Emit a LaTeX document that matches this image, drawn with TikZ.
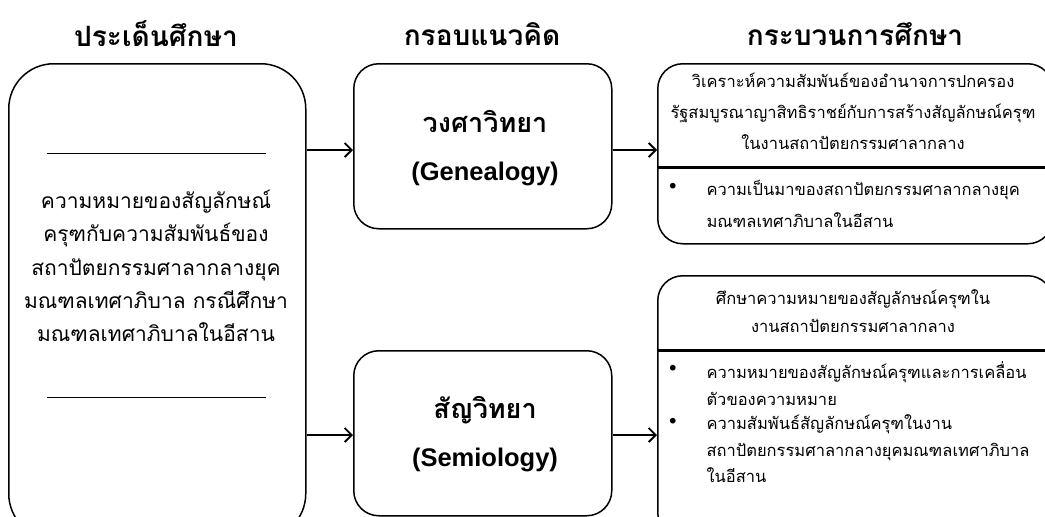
\documentclass[tikz,border=0pt]{standalone}
\usepackage{fontspec}
\usetikzlibrary{arrows.meta}
\setmainfont{Liberation Sans}
\newfontfamily\thai[Script=Thai]{Loma}
\tikzset{
  box/.style={draw, line width=1.5pt, rounded corners=#1, inner sep=0pt},
  title/.style={font=\thai\bfseries\fontsize{28}{30}\selectfont},
  big/.style={font=\thai\fontsize{21}{33.2}\selectfont, align=center},
  mid/.style={font=\thai\bfseries\fontsize{27}{48}\selectfont, align=center},
  small/.style={font=\thai\fontsize{16.5}{#1}\selectfont},
  small/.default=30,
  arr/.style={line width=1.6pt, -{Straight Barb[length=7pt,width=14pt,line width=1.8pt]}},
  sep/.style={line width=3pt},
  thin/.style={line width=0.8pt}
}
\newcommand{\latinmid}{\normalfont\bfseries\fontsize{25.5}{48}\selectfont}
\begin{document}
\begin{tikzpicture}[x=1pt,y=-1pt]
\useasboundingbox (0,0) rectangle (1045,517);
\begin{scope}
\clip (0,0) rectangle (1045,517);
% titles
\node[title] (t1) at (156,34) {ประเด็นศึกษา};
\node[title] (t2) at (482,34) {กรอบแนวคิด};
\node[title] (t3) at (855,34) {กระบวนการศึกษา};
% left box
\node[box=45pt, minimum width=297pt, minimum height=475pt, anchor=north west] (issue) at (8,63) {};
\draw[thin] (47,153) -- (266,153);
\draw[thin] (47,397) -- (266,397);
\node[big] (issuetext) at (156,266) {ความหมายของสัญลักษณ์\\ครุฑกับความสัมพันธ์ของ\\สถาปัตยกรรมศาลากลางยุค\\มณฑลเทศาภิบาล กรณีศึกษา\\มณฑลเทศาภิบาลในอีสาน};
% middle boxes
\node[box=25pt, minimum width=258pt, minimum height=165pt, anchor=north west] (gen) at (353,63) {};
\node[mid] (gentext) at (485,148) {วงศาวิทยา\\{\latinmid (Genealogy)}};
\node[box=25pt, minimum width=258pt, minimum height=165pt, anchor=north west] (sem) at (353,350) {};
\node[mid] (semtext) at (485,434) {สัญวิทยา\\{\latinmid (Semiology)}};
% right boxes
\node[box=25pt, minimum width=395pt, minimum height=180pt, anchor=north west] (r1) at (657,63) {};
\draw[sep] (657,167) -- (1052,167);
\node[small=31, align=center] (r1h) at (853,111) {วิเคราะห์ความสัมพันธ์ของอำนาจการปกครอง\\รัฐสมบูรณาญาสิทธิราชย์กับการสร้างสัญลักษณ์ครุฑ\\ในงานสถาปัตยกรรมศาลากลาง};
\node[small] (r1b) at (673,187) {•};
\node[small=32, align=left, anchor=west] (r1t) at (703,204) {ความเป็นมาของสถาปัตยกรรมศาลากลางยุค\\มณฑลเทศาภิบาลในอีสาน};
\node[box=25pt, minimum width=395pt, minimum height=262pt, anchor=north west] (r2) at (657,275) {};
\draw[sep] (657,350) -- (1052,350);
\node[small=28, align=center] (r2h) at (853,311) {ศึกษาความหมายของสัญลักษณ์ครุฑใน\\งานสถาปัตยกรรมศาลากลาง};
\node[small] (r2b1) at (673,369) {•};
\node[small] (r2b2) at (673,422) {•};
\node[small=26.8, align=left, anchor=west] (r2t1) at (703,383.5) {ความหมายของสัญลักษณ์ครุฑและการเคลื่อน\\ตัวของความหมาย};
\node[small=26.5, align=left, anchor=west] (r2t2) at (703,449) {ความสัมพันธ์สัญลักษณ์ครุฑในงาน\\สถาปัตยกรรมศาลากลางยุคมณฑลเทศาภิบาล\\ในอีสาน};
\end{scope}
% arrows
\draw[arr] (issue.east |- 0,150) -- (gen.west |- 0,150);
\draw[arr] (issue.east |- 0,435) -- (sem.west |- 0,435);
\draw[arr] (gen.east |- 0,150) -- (r1.west |- 0,150);
\draw[arr] (sem.east |- 0,435) -- (r2.west |- 0,435);
\end{tikzpicture}
\end{document}
